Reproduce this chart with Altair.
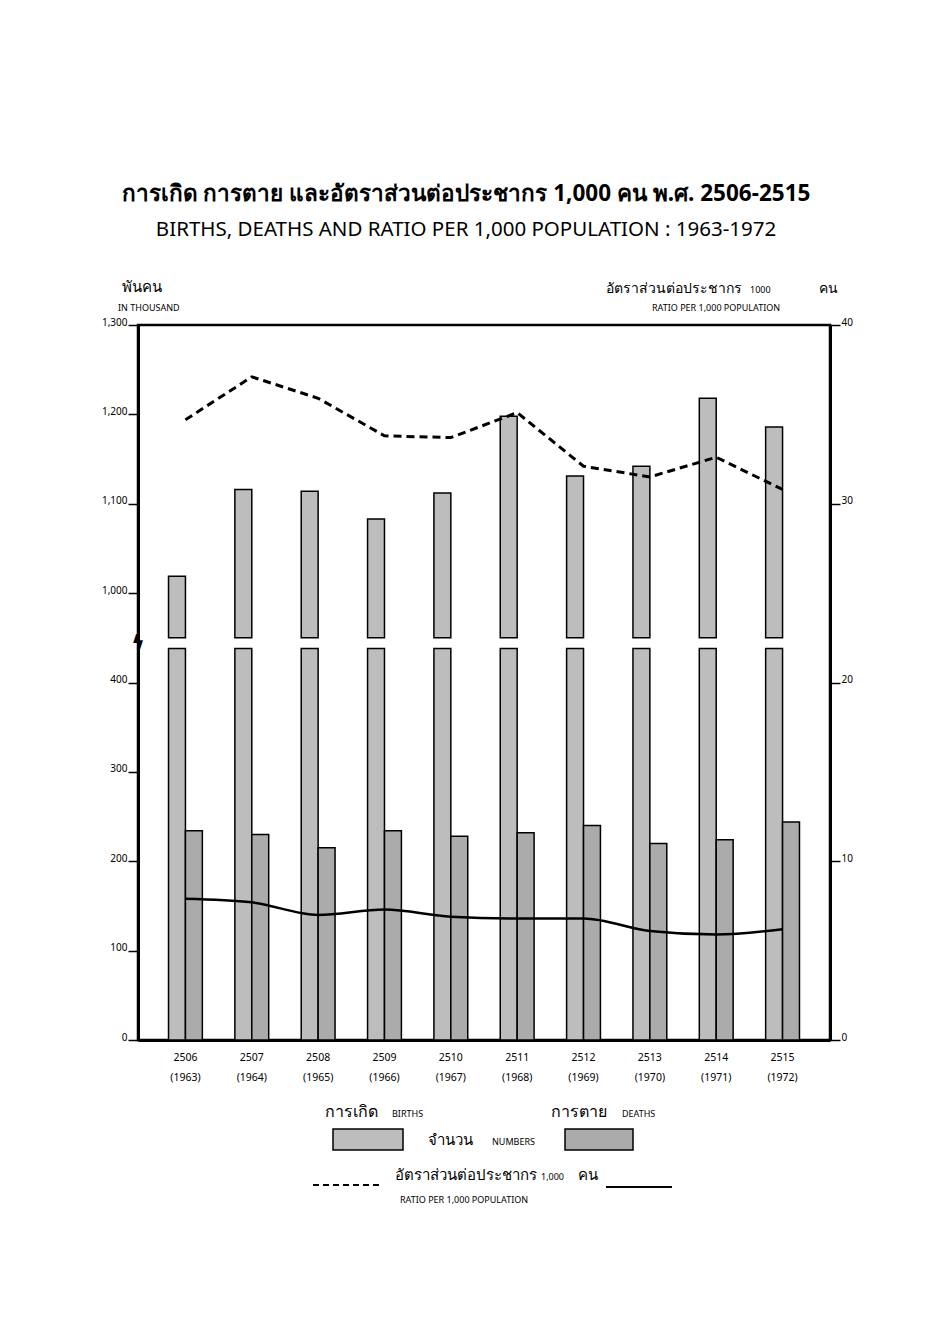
import altair as alt
import pandas as pd

# ---- values ----
years_be = ["2506", "2507", "2508", "2509", "2510", "2511", "2512", "2513", "2514", "2515"]
births = [1019, 1116, 1114, 1083, 1112, 1198, 1131, 1142, 1218, 1186]      # thousand
deaths = [234, 230, 215, 234, 228, 232, 240, 220, 224, 244]                # thousand
birth_rate = [34.7, 37.1, 35.9, 33.8, 33.7, 35.1, 32.1, 31.5, 32.6, 30.8]  # per 1,000
death_rate = [7.9, 7.7, 7.0, 7.3, 6.9, 6.8, 6.8, 6.1, 5.9, 6.2]            # per 1,000
left_ticks = [0, 100, 200, 300, 400, 1000, 1100, 1200, 1300]
right_ticks = [0, 10, 20, 30, 40]

# broken left scale: values >= 1000 are drawn shifted down by 500
SHIFT = 500
BREAK_LO = 438
BREAK_HI = 450

BIRTH_FILL = "#bdbdbd"
DEATH_FILL = "#ababab"
FONT = "Noto Sans"

rows = []
for yr, b, d in zip(years_be, births, deaths):
    rows.append(dict(year=yr, series="births", lo=0, hi=BREAK_LO))
    rows.append(dict(year=yr, series="births", lo=BREAK_HI, hi=b - SHIFT))
    rows.append(dict(year=yr, series="deaths", lo=0, hi=d))
bars_df = pd.DataFrame(rows)
rate_df = pd.DataFrame({"year": years_be, "birth_rate": birth_rate, "death_rate": death_rate})

W, H = 692, 715

x_enc = alt.X(
    "year:N",
    sort=years_be,
    scale=alt.Scale(paddingInner=0.49, paddingOuter=0.46),
    axis=alt.Axis(
        title=None, ticks=False, domainWidth=3, domainColor="black",
        labelFontSize=10.5, labelFont=FONT, labelColor="black", labelPadding=12,
        labelAngle=0, labelLineHeight=20,
        labelExpr="[datum.value, '(' + (toNumber(datum.value) - 543) + ')']",
    ),
)

left_axis = alt.Axis(
    title=None, grid=False, values=[v if v < 1000 else v - SHIFT for v in left_ticks],
    labelExpr="datum.value >= 500 ? format(datum.value + 500, ',') : format(datum.value, ',')",
    tickSize=10, tickWidth=1.5, tickColor="black", labelPadding=1,
    labelBaseline="alphabetic", labelFontSize=10, labelFont=FONT, labelColor="black",
    domainWidth=3, domainColor="black",
)

bars = alt.Chart(bars_df).mark_bar(stroke="black", strokeWidth=1.5).encode(
    x=x_enc,
    xOffset=alt.XOffset("series:N", scale=alt.Scale(domain=["births", "deaths"], paddingInner=0, paddingOuter=0)),
    y=alt.Y("lo:Q", scale=alt.Scale(domain=[0, 800], nice=False), axis=left_axis),
    y2="hi:Q",
    fill=alt.Fill("series:N", scale=alt.Scale(domain=["births", "deaths"], range=[BIRTH_FILL, DEATH_FILL]), legend=None),
)

axis_break = alt.Chart(alt.Data(values=[{}])).mark_text(
    text="ϟ", fontSize=20, font="DejaVu Sans", color="black", fontWeight="bold"
).encode(x=alt.value(0), y=alt.datum((BREAK_LO + BREAK_HI) / 2))

left_layer = alt.layer(bars, axis_break)

right_axis = alt.Axis(
    title=None, grid=False, values=right_ticks, orient="right",
    tickSize=10, tickWidth=1.5, tickColor="black", labelPadding=1,
    labelBaseline="alphabetic", labelFontSize=10, labelFont=FONT, labelColor="black",
    domainWidth=3, domainColor="black",
)
ry = alt.Scale(domain=[0, 40], nice=False)

line_b = alt.Chart(rate_df).mark_line(color="black", strokeWidth=3, strokeDash=[8, 5]).encode(
    x=alt.X("year:N", sort=years_be),
    y=alt.Y("birth_rate:Q", scale=ry, axis=right_axis),
)
line_d = alt.Chart(rate_df).mark_line(color="black", strokeWidth=2.5, interpolate="monotone").encode(
    x=alt.X("year:N", sort=years_be),
    y=alt.Y("death_rate:Q", scale=ry, axis=right_axis),
)
right_layer = alt.layer(line_b, line_d)

one = alt.Data(values=[{}])


def txt(s, x, y, size, align="left", weight="normal"):
    return alt.Chart(one).mark_text(
        align=align, baseline="alphabetic", fontSize=size, font=FONT, color="black", fontWeight=weight
    ).encode(x=alt.value(x), y=alt.value(y), text=alt.value(s))


annots = [
    # axis titles
    txt("พันคน", -16, -33, 15),
    txt("IN THOUSAND", -20, -14, 9),
    txt("อัตราส่วนต่อประชากร", 604, -32, 14, align="right"),
    txt("1000", 612, -32, 9),
    txt("คน", 700, -32, 14, align="right"),
    txt("RATIO PER 1,000 POPULATION", 514, -14, 9),
    # legend
    txt("การเกิด", 187, 792, 16),
    txt("BIRTHS", 254, 792, 9),
    txt("การตาย", 413, 792, 16),
    txt("DEATHS", 484, 792, 9),
    txt("จำนวน", 290, 820, 15),
    txt("NUMBERS", 354, 820, 9),
    txt("อัตราส่วนต่อประชากร", 257, 855, 15),
    txt("1,000", 403, 855, 9),
    txt("คน", 440, 855, 15),
    txt("RATIO PER 1,000 POPULATION", 262, 878, 9),
]

sw_b = alt.Chart(one).mark_rect(fill=BIRTH_FILL, stroke="black", strokeWidth=1.5).encode(
    x=alt.value(195), x2=alt.value(265), y=alt.value(804), y2=alt.value(825))
sw_d = alt.Chart(one).mark_rect(fill=DEATH_FILL, stroke="black", strokeWidth=1.5).encode(
    x=alt.value(427), x2=alt.value(495), y=alt.value(804), y2=alt.value(825))
lg_dash = alt.Chart(one).mark_rule(color="black", strokeWidth=2, strokeDash=[6, 4]).encode(
    x=alt.value(175), x2=alt.value(243), y=alt.value(860))
lg_solid = alt.Chart(one).mark_rule(color="black", strokeWidth=2).encode(
    x=alt.value(468), x2=alt.value(534), y=alt.value(862))

chart = alt.layer(
    left_layer, right_layer, *annots, sw_b, sw_d, lg_dash, lg_solid
).resolve_scale(y="independent").properties(
    width=W, height=H,
    background="white",
    padding={"left": 130, "top": 317, "right": 90, "bottom": 260},
    autosize=alt.AutoSizeParams(type="none"),
    title=alt.TitleParams(
        text="การเกิด การตาย และอัตราส่วนต่อประชากร 1,000 คน พ.ศ. 2506-2515",
        subtitle="BIRTHS, DEATHS AND RATIO PER 1,000 POPULATION :  1963-1972",
        anchor="middle", frame="group", dx=-18, offset=40,
        font=FONT, fontSize=22.5, fontWeight="bold", color="black",
        subtitleFont=FONT, subtitleFontSize=20.5, subtitleColor="black", subtitlePadding=14,
    ),
).configure_view(stroke="black", strokeWidth=2.5)

chart.save("out.html", embed_options={"renderer": "svg", "actions": False})
